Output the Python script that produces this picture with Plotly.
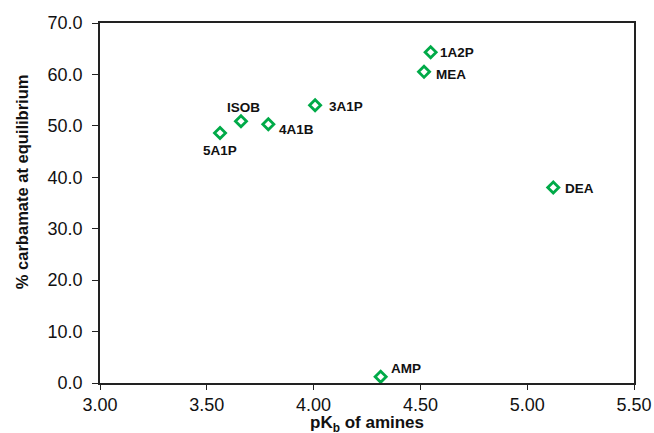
import plotly.graph_objects as go

names = ["1A2P", "MEA", "3A1P", "4A1B", "ISOB", "5A1P", "DEA", "AMP"]
pkb = [4.548, 4.517, 4.007, 3.788, 3.660, 3.562, 5.122, 4.314]
carbamate = [64.3, 60.5, 54.0, 50.3, 50.9, 48.6, 38.0, 1.2]

# label offsets (px) and anchors
offsets = {
    "1A2P": (7, 0, "left", "middle"),
    "MEA": (10, -3, "left", "middle"),
    "3A1P": (12, -1, "left", "middle"),
    "4A1B": (9, -5, "left", "middle"),
    "ISOB": (3, 14, "center", "middle"),
    "5A1P": (0, -17, "center", "middle"),
    "DEA": (10, -1, "left", "middle"),
    "AMP": (8, 8, "left", "middle"),
}

FONT = "Liberation Sans, Arial, sans-serif"
green = "#00AA48"
fig = go.Figure()
fig.add_trace(go.Scatter(
    x=pkb, y=carbamate, mode="markers",
    marker=dict(symbol="diamond-open", size=8.5, color=green, line=dict(width=2.8, color=green)),
    showlegend=False,
))

for n, xv, yv in zip(names, pkb, carbamate):
    dx, dy, xa, ya = offsets[n]
    fig.add_annotation(x=xv, y=yv, text="<b>%s</b>" % n, showarrow=False,
                       xshift=dx, yshift=dy, xanchor=xa, yanchor=ya,
                       font=dict(family=FONT, size=13.5, color="#111"))

axis_common = dict(showgrid=False, zeroline=False, showline=True, linecolor="#222", linewidth=1.6,
                   mirror=True, ticks="outside", tickwidth=1.3, tickcolor="#222", automargin=False,
                   tickfont=dict(family=FONT, size=18, color="#111"))

fig.update_xaxes(range=[3.0, 5.5], dtick=0.5, tickformat=".2f", ticklen=5,
                 ticklabelstandoff=0, **axis_common)
fig.update_yaxes(range=[0, 70], dtick=10, tickformat=".1f", ticklen=6,
                 ticklabelstandoff=6, **axis_common)

# axis titles
fig.add_annotation(xref="paper", yref="paper", x=0.5, y=-0.114, xanchor="center", yanchor="middle",
                   text="<b>pK<sub>b</sub> of amines</b>", showarrow=False,
                   font=dict(family=FONT, size=17, color="#111"))
fig.add_annotation(xref="paper", yref="paper", x=-0.146, y=0.558, xanchor="center", yanchor="middle",
                   text="<b>% carbamate at equilibrium</b>", showarrow=False, textangle=-90,
                   font=dict(family=FONT, size=16.5, color="#111"))

fig.update_layout(width=654, height=433, margin=dict(l=100, r=20, t=23, b=50),
                  plot_bgcolor="white", paper_bgcolor="white")
fig.write_html("out.html", config={"displayModeBar": False})

# remove the default page margin so the figure fills the window exactly
with open("out.html", "r", encoding="utf-8") as f:
    html = f.read()
html = html.replace("<head>", "<head><style>html,body{margin:0;padding:0;overflow:hidden;}</style>", 1)
with open("out.html", "w", encoding="utf-8") as f:
    f.write(html)
